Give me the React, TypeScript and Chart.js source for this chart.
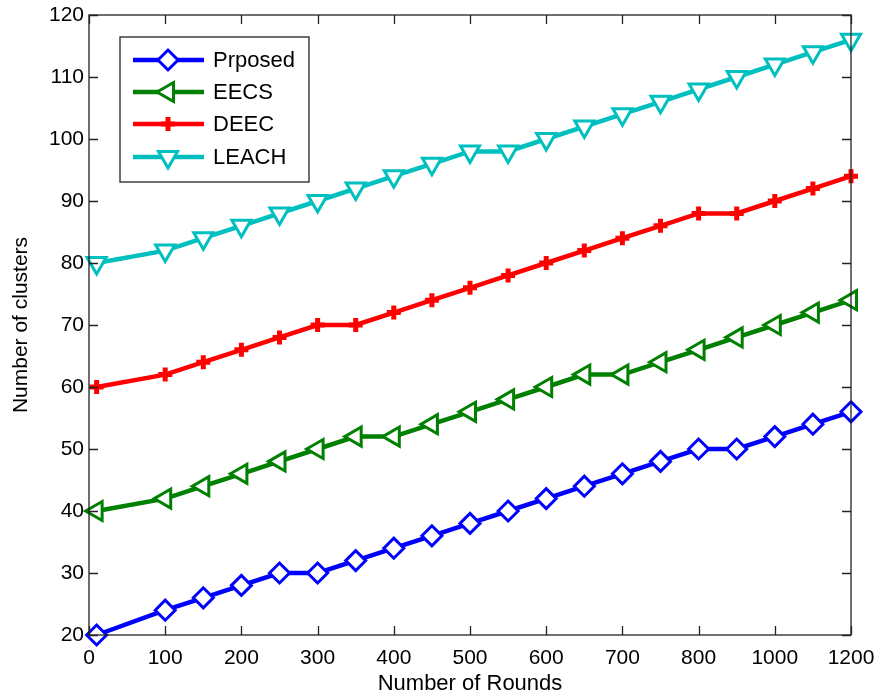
import React, { useEffect, useRef } from "react";
import { Chart, registerables } from "chart.js";
import { drawPoint } from "chart.js/helpers";

Chart.register(...registerables);

// underlying axis positions of the sampled rounds
const positions = [10, 100, 150, 200, 250, 300, 350, 400, 450, 500, 550, 600, 650, 700, 750, 800, 850, 900, 950, 1000];
// tick labels printed on the x axis (one per 100-unit tick)
const xTickLabels = ["0", "100", "200", "300", "400", "500", "600", "700", "800", "1000", "1200"];

const proposed = [20, 24, 26, 28, 30, 30, 32, 34, 36, 38, 40, 42, 44, 46, 48, 50, 50, 52, 54, 56];
const eecs = [40, 42, 44, 46, 48, 50, 52, 52, 54, 56, 58, 60, 62, 62, 64, 66, 68, 70, 72, 74];
const deec = [60, 62, 64, 66, 68, 70, 70, 72, 74, 76, 78, 80, 82, 84, 86, 88, 88, 90, 92, 94];
const leach = [80, 82, 84, 86, 88, 90, 92, 94, 96, 98, 98, 100, 102, 104, 106, 108, 110, 112, 114, 116];

const seriesNames = ["Prposed", "EECS", "DEEC", "LEACH"];

const FONT = "'Liberation Sans', Arial, Helvetica, sans-serif";

const toPts = (ys: number[]) => ys.map((y, i) => ({ x: positions[i], y }));

const frameAndLegend = {
  id: "frameAndLegend",
  afterDraw(chart: any) {
    const ctx = chart.ctx;
    const { left, right, top, bottom } = chart.chartArea;
    const xs = chart.scales.x;
    const ys = chart.scales.y;
    ctx.save();
    ctx.strokeStyle = "#222";
    ctx.lineWidth = 1.3;
    ctx.strokeRect(left, top, right - left, bottom - top);
    const tl = 9;
    ctx.beginPath();
    xs.ticks.forEach((t: any) => {
      const px = Math.round(xs.getPixelForValue(t.value)) + 0.5;
      ctx.moveTo(px, bottom);
      ctx.lineTo(px, bottom - tl);
      ctx.moveTo(px, top);
      ctx.lineTo(px, top + tl);
    });
    ys.ticks.forEach((t: any) => {
      const py = Math.round(ys.getPixelForValue(t.value)) + 0.5;
      ctx.moveTo(left, py);
      ctx.lineTo(left + tl, py);
      ctx.moveTo(right, py);
      ctx.lineTo(right - tl, py);
    });
    ctx.stroke();

    // legend box
    const bx = 120, by = 37, bw = 189, bh = 145;
    ctx.fillStyle = "#fff";
    ctx.fillRect(bx, by, bw, bh);
    ctx.lineWidth = 1.3;
    ctx.strokeStyle = "#222";
    ctx.strokeRect(bx, by, bw, bh);
    const rows = [60, 92, 124, 157];
    chart.data.datasets.forEach((ds: any, i: number) => {
      const y = rows[i];
      ctx.strokeStyle = ds.borderColor;
      ctx.lineWidth = ds.borderWidth;
      ctx.beginPath();
      ctx.moveTo(133, y);
      ctx.lineTo(204, y);
      ctx.stroke();
      ctx.fillStyle = ds.pointBackgroundColor;
      ctx.strokeStyle = ds.borderColor;
      ctx.lineWidth = ds.pointBorderWidth;
      drawPoint(ctx, {
        pointStyle: ds.pointStyle,
        rotation: ds.pointRotation,
        radius: ds.pointRadius,
        borderWidth: ds.pointBorderWidth,
      } as any, 168, y);
      ctx.fillStyle = "#000";
      ctx.font = `22px ${FONT}`;
      ctx.textAlign = "left";
      ctx.textBaseline = "middle";
      ctx.fillText(ds.label, 213, y + 1);
    });
    ctx.restore();
  },
};

export default function App() {
  const ref = useRef<HTMLCanvasElement | null>(null);
  useEffect(() => {
    document.body.style.margin = "0";
    const common = {
      borderWidth: 4.5,
      pointBorderWidth: 3,
      pointBackgroundColor: "#fff",
      tension: 0,
      clip: false as any,
    };
    const chart = new Chart(ref.current as HTMLCanvasElement, {
      type: "line",
      data: {
        datasets: [
          { ...common, label: seriesNames[0], data: toPts(proposed), borderColor: "#0000ff", pointBorderColor: "#0000ff", pointStyle: "rectRot", pointRadius: 10, pointRotation: 0 },
          { ...common, label: seriesNames[1], data: toPts(eecs), borderColor: "#008000", pointBorderColor: "#008000", pointStyle: "triangle", pointRadius: 11, pointRotation: 270 },
          { ...common, label: seriesNames[2], data: toPts(deec), borderColor: "#ff0000", pointBorderColor: "#ff0000", pointStyle: "cross", pointRadius: 7, pointBorderWidth: 5, pointRotation: 0 },
          { ...common, label: seriesNames[3], data: toPts(leach), borderColor: "#00bfbf", pointBorderColor: "#00bfbf", pointStyle: "triangle", pointRadius: 11, pointRotation: 180 },
        ] as any,
      },
      options: {
        animation: false,
        responsive: false,
        layout: { padding: { top: 15, right: 27, left: 0, bottom: 0 } },
        plugins: { legend: { display: false }, tooltip: { enabled: false } },
        scales: {
          x: {
            type: "linear",
            min: 0,
            max: 1000,
            grid: { display: false, drawTicks: false },
            border: { display: false },
            ticks: {
              stepSize: 100,
              padding: 11,
              color: "#000",
              font: { family: FONT, size: 21 },
              maxRotation: 0,
              autoSkip: false,
              callback: (_v: any, i: number) => xTickLabels[i],
            },
            title: {
              display: true,
              text: "Number of Rounds",
              color: "#000",
              font: { family: FONT, size: 22 },
              padding: { top: 0, bottom: 3 },
            },
            afterFit: (s: any) => {
              s.height = 65;
              s.paddingLeft = 0;
              s.paddingRight = 0;
            },
          },
          y: {
            min: 20,
            max: 120,
            grid: { display: false, drawTicks: false },
            border: { display: false },
            ticks: {
              stepSize: 10,
              padding: 5,
              color: "#000",
              font: { family: FONT, size: 21 },
            },
            title: {
              display: true,
              text: "Number of clusters",
              color: "#000",
              font: { family: FONT, size: 21 },
              padding: { top: 9, bottom: 0 },
            },
            afterFit: (s: any) => {
              s.width = 89;
              s.paddingTop = 0;
              s.paddingBottom = 0;
            },
          },
        },
      },
      plugins: [frameAndLegend],
    });
    return () => chart.destroy();
  }, []);
  return (
    <div style={{ width: 878, height: 700 }}>
      <canvas ref={ref} width={878} height={700} />
    </div>
  );
}
